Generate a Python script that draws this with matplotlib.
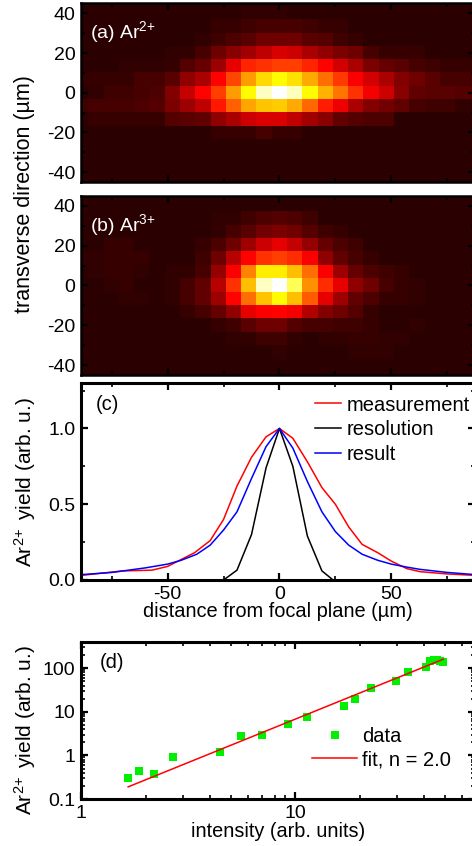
import numpy as np
import matplotlib
matplotlib.use('Agg')
import matplotlib.pyplot as plt

plt.rcParams['font.family'] = ['Liberation Sans', 'DejaVu Sans']
plt.rcParams['mathtext.fontset'] = 'custom'
plt.rcParams['mathtext.rm'] = 'Liberation Sans'
plt.rcParams['mathtext.default'] = 'regular'
plt.rcParams['axes.unicode_minus'] = False
plt.rcParams['font.size'] = 14

W, H = 472, 846

# heat map cells, brightness in percent. rows go from +7 to -7, columns -13 to +13
ar2_map = [
    [5, 5, 5, 5, 5, 5, 5, 5, 5, 5, 5, 5, 5, 5, 5, 5, 5, 5, 5, 5, 5, 5, 5, 5, 5, 5, 5],
    [5, 5, 5, 5, 5, 5, 5, 5, 5, 5, 5, 6, 6, 6, 5, 5, 5, 5, 5, 5, 5, 5, 5, 5, 5, 5, 5],
    [5, 5, 5, 5, 5, 5, 5, 5, 5, 7, 7, 8, 9, 9, 9, 8, 7, 7, 5, 5, 5, 5, 5, 5, 5, 5, 5],
    [5, 5, 5, 5, 5, 5, 5, 5, 6, 8, 10, 12, 15, 15, 15, 12, 11, 8, 7, 5, 5, 5, 5, 5, 5, 5, 5],
    [5, 5, 5, 5, 5, 5, 6, 6, 9, 15, 19, 23, 27, 31, 29, 24, 20, 17, 15, 9, 7, 7, 7, 5, 5, 5, 5],
    [5, 5, 5, 6, 6, 6, 7, 11, 14, 22, 33, 42, 44, 46, 46, 42, 37, 30, 24, 17, 14, 12, 9, 8, 7, 7, 7],
    [6, 7, 7, 7, 9, 9, 12, 20, 24, 37, 47, 60, 69, 74, 70, 62, 53, 45, 36, 30, 24, 18, 15, 12, 9, 9, 8],
    [5, 6, 8, 8, 9, 10, 18, 28, 37, 46, 60, 74, 94, 100, 93, 74, 63, 54, 44, 35, 29, 19, 13, 12, 12, 11, 11],
    [8, 9, 9, 9, 10, 11, 17, 22, 27, 40, 51, 61, 66, 67, 62, 52, 41, 34, 24, 18, 16, 13, 9, 8, 8, 6, 5],
    [5, 7, 7, 7, 7, 7, 11, 12, 13, 20, 24, 29, 31, 31, 27, 23, 19, 13, 11, 10, 10, 5, 5, 5, 5, 5, 5],
    [5, 5, 5, 5, 5, 5, 5, 5, 5, 7, 7, 7, 9, 7, 7, 5, 5, 5, 5, 5, 5, 5, 5, 5, 5, 5, 5],
    [5, 5, 5, 5, 5, 5, 5, 5, 5, 5, 5, 5, 5, 5, 5, 5, 5, 5, 5, 5, 5, 5, 5, 5, 5, 5, 5],
    [5, 5, 5, 5, 5, 5, 5, 5, 5, 5, 5, 5, 5, 5, 5, 5, 5, 5, 5, 5, 5, 5, 5, 5, 5, 5, 5],
    [5, 5, 5, 5, 5, 5, 5, 5, 5, 5, 5, 5, 5, 5, 5, 5, 5, 5, 5, 5, 5, 5, 5, 5, 5, 5, 5],
    [5, 5, 5, 5, 5, 5, 5, 5, 5, 5, 5, 5, 5, 5, 5, 5, 5, 5, 5, 5, 5, 5, 5, 5, 5, 5, 5],
]
ar3_map = [
    [5, 5, 5, 5, 5, 5, 5, 5, 5, 5, 5, 5, 5, 5, 5, 5, 5, 5, 5, 5, 5, 5, 5, 5, 5, 5, 5],
    [6, 5, 5, 5, 5, 5, 5, 5, 5, 5, 5, 5, 5, 5, 5, 5, 5, 5, 5, 5, 5, 5, 5, 5, 5, 5, 5],
    [5, 5, 5, 5, 5, 5, 5, 5, 5, 6, 6, 8, 10, 11, 10, 8, 5, 5, 5, 5, 5, 5, 5, 5, 5, 5, 5],
    [5, 5, 5, 5, 5, 5, 5, 5, 5, 6, 9, 12, 16, 17, 15, 11, 8, 7, 5, 5, 5, 5, 5, 5, 5, 5, 5],
    [5, 5, 7, 7, 5, 5, 5, 5, 7, 10, 15, 22, 29, 33, 28, 21, 14, 10, 8, 5, 5, 5, 5, 5, 5, 5, 5],
    [6, 6, 7, 7, 7, 5, 5, 5, 8, 15, 26, 37, 44, 46, 43, 36, 20, 13, 9, 7, 5, 5, 5, 5, 5, 5, 5],
    [5, 6, 7, 7, 6, 5, 6, 6, 9, 21, 36, 56, 72, 72, 65, 53, 36, 22, 14, 10, 8, 7, 5, 5, 5, 5, 5],
    [5, 5, 6, 7, 5, 5, 6, 9, 13, 26, 44, 65, 94, 100, 83, 58, 43, 33, 20, 15, 9, 7, 6, 5, 5, 5, 5],
    [5, 5, 5, 6, 6, 5, 6, 9, 13, 22, 37, 53, 66, 74, 65, 50, 33, 22, 13, 10, 7, 7, 6, 5, 5, 5, 5],
    [5, 5, 5, 5, 5, 5, 5, 7, 9, 14, 20, 33, 36, 37, 35, 25, 18, 15, 11, 7, 5, 5, 5, 5, 5, 5, 5],
    [5, 5, 5, 5, 5, 5, 5, 5, 5, 7, 8, 12, 15, 15, 11, 9, 9, 8, 8, 7, 5, 5, 6, 5, 5, 5, 5],
    [5, 5, 5, 5, 5, 5, 5, 5, 5, 5, 6, 6, 8, 8, 6, 5, 6, 6, 7, 7, 6, 6, 5, 5, 5, 5, 5],
    [5, 5, 5, 5, 5, 5, 5, 5, 5, 5, 5, 5, 5, 6, 5, 5, 5, 5, 6, 6, 6, 5, 5, 5, 5, 5, 5],
    [5, 5, 5, 5, 5, 5, 5, 5, 5, 5, 5, 5, 5, 5, 5, 5, 5, 5, 5, 5, 5, 5, 5, 5, 5, 5, 5],
    [5, 5, 5, 5, 5, 5, 5, 5, 5, 5, 5, 5, 5, 5, 5, 5, 5, 5, 5, 5, 5, 5, 5, 5, 5, 5, 5],
]

# panel c
meas_x = [-89, -70, -57, -50, -38, -31, -25, -19, -12.5, -6, 0, 6, 12.5, 19, 25, 31, 37, 44, 50, 57, 63, 75, 88]
meas_y = [.03, .06, .065, .09, .18, .26, .40, .62, .81, .945, 1, .935, .78, .61, .5, .35, .235, .18, .125, .075, .055, .04, .03]
res_x = [-25, -19, -12.5, -6, 0, 6, 12.5, 19, 24]
res_y = [0, .065, .3, .74, 1, .75, .29, .06, 0]
result_x = [-89, -75, -60, -50, -44, -37, -31, -25, -19, -12.5, -6, 0, 6, 12.5, 19, 25, 31, 37, 44, 50, 57, 63, 75, 88]
result_y = [.035, .05, .08, .105, .13, .17, .23, .33, .45, .67, .88, 1, .87, .65, .45, .32, .23, .17, .13, .105, .085, .07, .05, .035]

# panel d
intensity = [1.66, 1.86, 2.19, 2.68, 4.43, 5.57, 6.96, 9.21, 11.4, 16.9, 18.9, 22.6, 29.6, 33.5, 40.8, 42.4, 44.3, 45.9, 47.6, 49]
ar2_yield = [.31, .43, .37, .90, 1.17, 2.77, 2.92, 5.3, 7.7, 13.5, 19.9, 35.5, 50, 81, 109, 147, 152, 158, 147, 142]
fit_x = [1.66, 49]
fit_y = [.19, 161]

cell_x = 6.84
cell_y = 6.7
x_range = (-88.8, 87.5)


def make_axes(left, top, right, bottom):
    return fig.add_axes([left / W, 1 - bottom / H, (right - left) / W, (bottom - top) / H])


def style(ax, lw=2.2):
    for s in ax.spines.values():
        s.set_linewidth(lw)
    ax.tick_params(which='major', direction='in', length=5, width=1.6, top=True, right=True,
                   labelsize=14, pad=4)
    ax.tick_params(which='minor', direction='in', length=3, width=1.2, top=True, right=True)


def heatmap(ax, cells, label):
    cells = np.array(cells)
    nrow, ncol = cells.shape
    ax.imshow(cells, cmap='hot', vmin=0, vmax=100, aspect='auto', interpolation='nearest',
              extent=(-13.5 * cell_x, (ncol - 13.5) * cell_x, -nrow / 2 * cell_y, nrow / 2 * cell_y))
    ax.set_xlim(x_range)
    ax.set_ylim(-45, 45)
    ax.set_xticks([-50, 0, 50])
    ax.set_xticks([-75, -25, 25, 75], minor=True)
    ax.set_yticks([-40, -20, 0, 20, 40])
    ax.set_yticks([-30, -10, 10, 30], minor=True)
    ax.tick_params(labelbottom=False)
    style(ax, lw=1.8)
    ax.text(0.022, 0.84, label, transform=ax.transAxes, color='white', fontsize=14, va='center')


fig = plt.figure(figsize=(W / 100, H / 100), dpi=100)

ax_a = make_axes(81, 3.5, 475, 182)
heatmap(ax_a, ar2_map, r'(a) Ar$^{2\!+}$')
ax_b = make_axes(81, 196, 475, 375)
heatmap(ax_b, ar3_map, r'(b) Ar$^{3\!+}$')
fig.text(25 / W, 1 - 194 / H, 'transverse direction (\u00b5m)', rotation=90, ha='center', va='center', fontsize=15.5)

ax_c = make_axes(81, 383, 475, 580)
ax_c.plot(meas_x, meas_y, color='red', lw=1.1, label='measurement')
ax_c.plot(res_x, res_y, color='black', lw=1.1, label='resolution')
ax_c.plot(result_x, result_y, color='blue', lw=1.1, label='result')
ax_c.set_xlim(x_range)
ax_c.set_ylim(0, 1.3)
ax_c.set_xticks([-50, 0, 50])
ax_c.set_xticks([-75, -25, 25, 75], minor=True)
ax_c.set_yticks([0, 0.5, 1.0])
ax_c.set_yticks([0.25, 0.75, 1.25], minor=True)
ax_c.set_yticklabels(['0.0', '0.5', '1.0'])
style(ax_c)
fig.text(96 / W, 1 - 404 / H, '(c)', va='center', fontsize=14.5)
ax_c.legend(loc='upper left', bbox_to_anchor=(315 / W, 1 - 395.5 / H), bbox_transform=fig.transFigure, frameon=False,
            fontsize=14.5, handlelength=1.3, handletextpad=0.25, labelspacing=0.28, borderpad=0, borderaxespad=0)
fig.text(278 / W, 1 - 611 / H, 'distance from focal plane (\u00b5m)', ha='center', va='center', fontsize=14.4)
fig.text(25 / W, 1 - 482 / H, r'Ar$^{2\!+}$ yield (arb. u.)', rotation=90, ha='center', va='center', fontsize=15)

ax_d = make_axes(81, 642, 475, 799)
ax_d.plot(intensity, ar2_yield, ls='none', marker='s', ms=6.2, color='#00f000', mew=0, label='data')
ax_d.plot(fit_x, fit_y, color='red', lw=1.1, label='fit, n = 2.0')
ax_d.set_xscale('log')
ax_d.set_yscale('log')
ax_d.set_xlim(1, 69)
ax_d.set_ylim(0.1, 400)
ax_d.set_xticks([1, 10])
ax_d.set_xticklabels(['1', '10'])
ax_d.set_yticks([0.1, 1, 10, 100])
ax_d.set_yticklabels(['0.1', '1', '10', '100'])
style(ax_d)
fig.text(100 / W, 1 - 663 / H, '(d)', va='center', fontsize=14.5)
ax_d.legend(loc='upper left', bbox_to_anchor=(312 / W, 1 - 727 / H), bbox_transform=fig.transFigure, frameon=False,
            fontsize=14.5, handlelength=2.25, handletextpad=0.25, labelspacing=0.2, borderpad=0, borderaxespad=0)
fig.text(278 / W, 1 - 831 / H, 'intensity (arb. units)', ha='center', va='center', fontsize=14.3)
fig.text(25 / W, 1 - 730 / H, r'Ar$^{2\!+}$ yield (arb. u.)', rotation=90, ha='center', va='center', fontsize=15)

fig.savefig('out.png', dpi=100)
